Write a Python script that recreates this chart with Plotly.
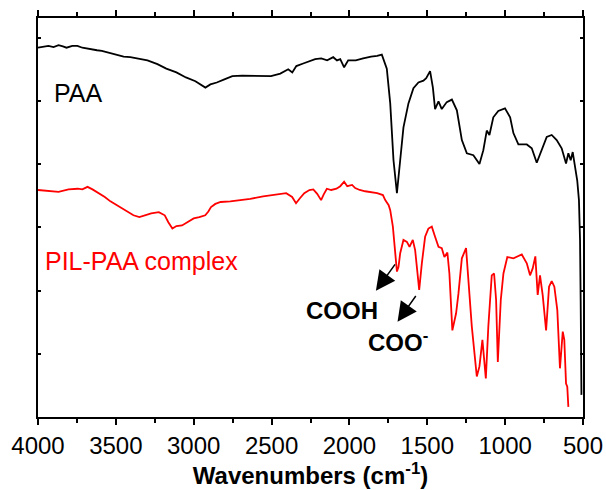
import plotly.graph_objects as go

# PAA spectrum (wavenumber cm-1, transmittance a.u.)
paa_wn = [4000, 3967, 3933, 3900, 3868, 3840, 3817, 3780, 3747, 3715, 3682, 3650, 3621, 3590, 3561, 3530,
          3496, 3450, 3407, 3350, 3297, 3233, 3176, 3111, 3050, 2989, 2925, 2893, 2852, 2803, 2752,
          2688, 2630, 2566, 2504, 2444, 2393, 2367, 2341, 2297, 2258, 2220, 2181, 2143, 2104, 2080,
          2059, 2034, 2008, 1959, 1912, 1861, 1822, 1792, 1760, 1738, 1717, 1695, 1674, 1653, 1621,
          1589, 1557, 1525, 1507, 1482, 1464, 1450, 1428, 1407, 1375, 1342, 1310, 1278, 1246, 1204,
          1165, 1140, 1118, 1101, 1076, 1044, 1001, 968, 947, 915, 861, 829, 797, 765, 733, 701, 669,
          637, 609, 594, 579, 566, 551, 537, 526, 519, 515, 511, 510]
paa_t = [5.84, 5.86, 5.87, 5.85, 5.88, 5.86, 5.84, 5.87, 5.87, 5.84, 5.83, 5.82, 5.80, 5.79, 5.77, 5.75,
         5.72, 5.70, 5.69, 5.66, 5.64, 5.58, 5.51, 5.45, 5.37, 5.31, 5.21, 5.26, 5.29, 5.34, 5.39,
         5.40, 5.40, 5.39, 5.39, 5.43, 5.50, 5.45, 5.55, 5.59, 5.62, 5.66, 5.67, 5.64, 5.69, 5.64,
         5.66, 5.53, 5.64, 5.64, 5.67, 5.70, 5.71, 5.73, 5.51, 4.96, 4.06, 3.54, 4.06, 4.58, 4.96,
         5.20, 5.29, 5.32, 5.36, 5.47, 5.21, 4.87, 4.99, 4.87, 4.98, 5.02, 4.85, 4.38, 4.17, 4.14,
         4.00, 4.22, 4.53, 4.46, 4.74, 4.84, 4.88, 4.74, 4.49, 4.31, 4.31, 4.25, 4.02, 4.22, 4.43, 4.46, 4.38,
         4.25, 4.01, 4.17, 4.06, 4.19, 3.95, 3.74, 3.43, 2.80, 1.85, 0.90, 0.35]

# PIL-PAA complex spectrum
pil_wn = [4000, 3933, 3868, 3804, 3745, 3715, 3682, 3650, 3621, 3571, 3535, 3496, 3458, 3422, 3387,
          3349, 3310, 3273, 3224, 3186, 3163, 3137, 3111, 3075, 3041, 3000, 2964, 2926, 2906, 2889,
          2861, 2827, 2765, 2703, 2637, 2554, 2483, 2406, 2368, 2343, 2318, 2290, 2257, 2232, 2207,
          2182, 2165, 2145, 2117, 2083, 2059, 2034, 2014, 1983, 1963, 1934, 1899, 1860, 1822, 1785,
          1770, 1748, 1738, 1721, 1706, 1695, 1685, 1674, 1653, 1631, 1614, 1593, 1578, 1565, 1552,
          1535, 1514, 1493, 1471, 1450, 1428, 1407, 1390, 1371, 1358, 1339, 1315, 1300, 1278, 1251,
          1236, 1214, 1182, 1165, 1146, 1124, 1108, 1086, 1071, 1058, 1047, 1028, 1011, 986, 947, 893,
          861, 840, 823, 806, 791, 776, 759, 737, 718, 701, 684, 665, 648, 630, 620, 609, 601, 596, 594]
pil_t = [3.59, 3.57, 3.56, 3.60, 3.61, 3.60, 3.64, 3.60, 3.56, 3.48, 3.41, 3.35, 3.29, 3.24, 3.19,
         3.16, 3.19, 3.22, 3.24, 3.19, 3.08, 2.98, 3.02, 3.03, 3.08, 3.14, 3.16, 3.19, 3.25, 3.32,
         3.37, 3.40, 3.41, 3.43, 3.45, 3.49, 3.51, 3.54, 3.48, 3.38, 3.46, 3.54, 3.59, 3.60, 3.53,
         3.43, 3.52, 3.61, 3.59, 3.61, 3.65, 3.72, 3.65, 3.67, 3.62, 3.59, 3.57, 3.56, 3.54, 3.51,
         3.43, 3.35, 3.27, 3.01, 2.64, 2.30, 2.37, 2.59, 2.80, 2.77, 2.69, 2.80, 2.64, 2.32, 2.01,
         2.43, 2.85, 2.98, 3.01, 2.85, 2.69, 2.67, 2.53, 2.60, 2.27, 1.37, 1.64, 1.95, 2.51, 2.67,
         2.22, 1.43, 0.64, 0.80, 1.22, 0.61, 1.43, 2.24, 2.27, 1.85, 0.87, 1.85, 2.27, 2.53, 2.51, 2.57,
         2.43, 2.24, 2.35, 2.54, 1.93, 2.24, 1.93, 1.37, 2.06, 2.15, 2.06, 1.69, 0.77, 1.35, 1.22, 0.53, 0.48, 0.33, 0.16]

x_ticks = [4000, 3500, 3000, 2500, 2000, 1500, 1000, 500]
x_tick_labels = ["4000", "3500", "3000", "2500", "2000", "1500", "1000", "500"]

FONT = "Liberation Sans, Arial, sans-serif"

fig = go.Figure()
fig.add_trace(go.Scatter(x=paa_wn, y=paa_t, mode="lines", line=dict(color="black", width=1.8),
                         name="PAA", showlegend=False))
fig.add_trace(go.Scatter(x=pil_wn, y=pil_t, mode="lines", line=dict(color="#ff0000", width=1.8),
                         name="PIL-PAA complex", showlegend=False))

fig.add_annotation(x=3907, y=5.13, text="PAA", showarrow=False, xanchor="left", yanchor="middle",
                   font=dict(family=FONT, size=25, color="black"))
fig.add_annotation(x=3968, y=2.46, text="PIL-PAA complex", showarrow=False, xanchor="left", yanchor="middle",
                   font=dict(family=FONT, size=25, color="#ff0000"))
fig.add_annotation(x=2046, y=1.68, text="<b>COOH</b>", showarrow=False, xanchor="center", yanchor="middle",
                   font=dict(family=FONT, size=24, color="black"))
fig.add_annotation(x=1687, y=1.20, text="<b>COO<sup>-</sup></b>", showarrow=False, xanchor="center", yanchor="middle",
                   font=dict(family=FONT, size=24, color="black"))

# arrows (tail -> tip)
fig.add_annotation(x=1830, y=1.995, ax=1700, ay=2.438, axref="x", ayref="y", xref="x", yref="y",
                   text="", showarrow=True, arrowhead=2, arrowsize=2.6, arrowwidth=1.5, arrowcolor="black")
fig.add_annotation(x=1691, y=1.506, ax=1567, ay=1.938, axref="x", ayref="y", xref="x", yref="y",
                   text="", showarrow=True, arrowhead=2, arrowsize=2.6, arrowwidth=1.5, arrowcolor="black")

fig.update_layout(
    width=606, height=490,
    margin=dict(l=38, r=23, t=18, b=73, autoexpand=False),
    paper_bgcolor="white", plot_bgcolor="white",
    font=dict(family=FONT, color="black"),
)
fig.update_xaxes(
    range=[4000, 500], tickvals=x_ticks, ticktext=x_tick_labels, automargin=False,
    ticks="outside", ticklen=6, tickwidth=1.5, tickcolor="black",
    minor=dict(dtick=250, tick0=500, ticks="outside", ticklen=4, tickwidth=1.5, tickcolor="black"),
    showline=True, linewidth=1.5, linecolor="black", mirror="allticks",
    showgrid=False, zeroline=False,
    tickfont=dict(family=FONT, size=24, color="black"),
    title=dict(text="<b>Wavenumbers (cm<sup>-1</sup>)</b>", font=dict(family=FONT, size=24, color="black"), standoff=1),
)
fig.update_yaxes(
    range=[0, 6.31], dtick=1, tick0=0, showticklabels=False, automargin=False,
    ticks="inside", ticklen=3, tickwidth=1.5, tickcolor="black",
    showline=True, linewidth=1.5, linecolor="black", mirror="allticks",
    showgrid=False, zeroline=False,
)

fig.write_html("out.html")
